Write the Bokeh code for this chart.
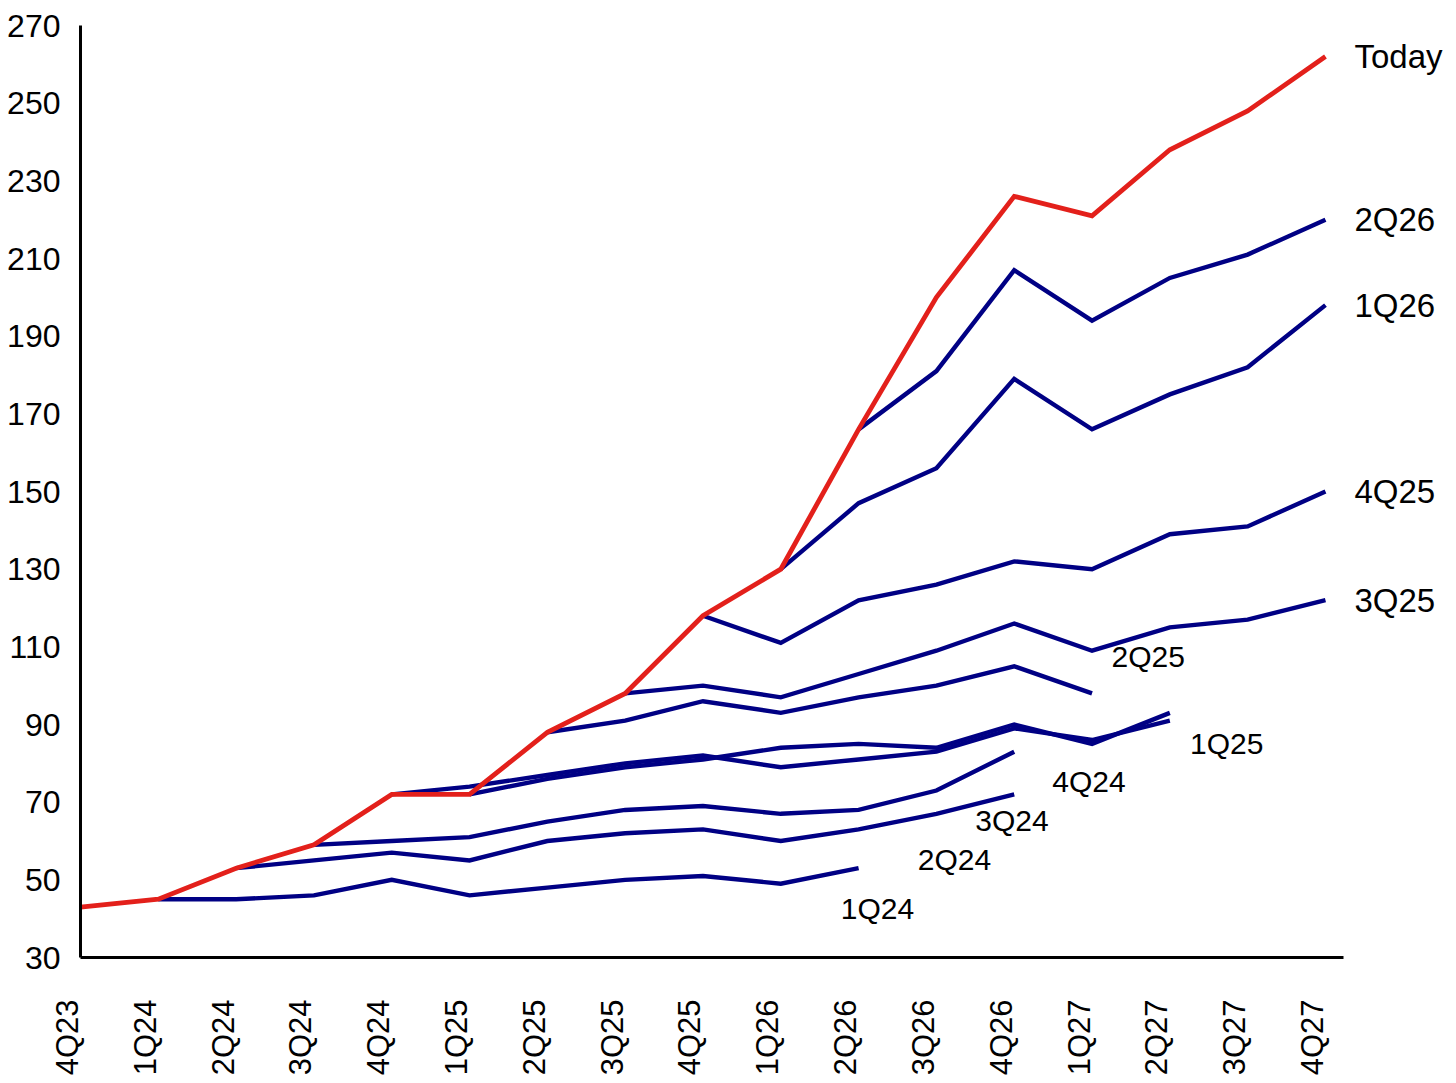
import math
from bokeh.plotting import figure
from bokeh.models import Range1d, FixedTicker, CustomJSTickFormatter, Label, LinearAxis
from bokeh.embed import file_html
from bokeh.resources import INLINE

# ---------------- data ----------------
quarters = ["4Q23", "1Q24", "2Q24", "3Q24", "4Q24", "1Q25", "2Q25", "3Q25", "4Q25",
            "1Q26", "2Q26", "3Q26", "4Q26", "1Q27", "2Q27", "3Q27", "4Q27"]
y_ticks = [30, 50, 70, 90, 110, 130, 150, 170, 190, 210, 230, 250, 270]

today = [43, 45, 53, 59, 72, 72, 88, 98, 118, 130, 166, 200, 226, 221, 238, 248, 262]

# forecast vintages: first quarter of each series and its values
v1Q24_start = "1Q24"
v1Q24 = [45, 45, 46, 50, 46, 48, 50, 51, 49, 53]
v2Q24_start = "2Q24"
v2Q24 = [53, 55, 57, 55, 60, 62, 63, 60, 63, 67, 72]
v3Q24_start = "3Q24"
v3Q24 = [59, 60, 61, 65, 68, 69, 67, 68, 73, 83]
v4Q24_start = "4Q24"
v4Q24 = [72, 74, 77, 80, 82, 79, 81, 83, 89, 86, 91]
v1Q25_start = "1Q25"
v1Q25 = [72, 76, 79, 81, 84, 85, 84, 90, 85, 93]
v2Q25_start = "2Q25"
v2Q25 = [88, 91, 96, 93, 97, 100, 105, 98]
v3Q25_start = "3Q25"
v3Q25 = [98, 100, 97, 103, 109, 116, 109, 115, 117, 122]
v4Q25_start = "4Q25"
v4Q25 = [118, 111, 122, 126, 132, 130, 139, 141, 150]
v1Q26_start = "1Q26"
v1Q26 = [130, 147, 156, 179, 166, 175, 182, 198]
v2Q26_start = "2Q26"
v2Q26 = [166, 181, 207, 194, 205, 211, 220]

vintages = [
    ("1Q24", v1Q24_start, v1Q24), ("2Q24", v2Q24_start, v2Q24),
    ("3Q24", v3Q24_start, v3Q24), ("4Q24", v4Q24_start, v4Q24),
    ("1Q25", v1Q25_start, v1Q25), ("2Q25", v2Q25_start, v2Q25),
    ("3Q25", v3Q25_start, v3Q25), ("4Q25", v4Q25_start, v4Q25),
    ("1Q26", v1Q26_start, v1Q26), ("2Q26", v2Q26_start, v2Q26),
]

# labels placed beside the lower vintages (x as quarter position, y as value)
low_label_names = ["1Q24", "2Q24", "3Q24", "4Q24", "1Q25", "2Q25"]
low_label_x = [9.77, 10.76, 11.50, 12.49, 14.26, 13.25]
low_label_y = [42.6, 55.2, 65.3, 75.3, 85.1, 107.5]

# labels at the right end of the longest series
end_label_names = ["Today", "2Q26", "1Q26", "4Q25", "3Q25"]

# ---------------- figure ----------------
FONT = "Liberation Sans"
RED = "#e3201b"
NAVY = "#000084"
UNIT = 77.81  # pixels per quarter

p = figure(frame_width=1263, frame_height=932,
           min_border_left=80, min_border_right=105,
           min_border_top=25, min_border_bottom=118,
           x_range=Range1d(0, 1263 / UNIT), y_range=Range1d(30, 270),
           output_backend="svg", toolbar_location=None,
           background_fill_color="white", border_fill_color="white")
p.outline_line_color = None
p.grid.visible = False

x = list(range(len(quarters)))

for name, start, vals in vintages:
    i0 = quarters.index(start)
    p.line(x[i0:i0 + len(vals)], vals, line_color=NAVY, line_width=4.4,
           line_join="miter")

p.line(x, today, line_color=RED, line_width=4.8, line_join="miter")

# axes
for ax in (p.xaxis[0], p.yaxis[0]):
    ax.axis_line_color = "black"
    ax.axis_line_width = 3
    ax.major_tick_line_color = None
    ax.major_tick_out = 0
    ax.major_tick_in = 0
    ax.minor_tick_line_color = None
    ax.major_label_text_font = FONT
    ax.major_label_text_color = "black"

p.yaxis.ticker = FixedTicker(ticks=y_ticks)
p.yaxis.major_label_text_font_size = "32px"
p.yaxis.major_label_standoff = 20

p.xaxis.ticker = FixedTicker(ticks=[i + 8 / UNIT for i in x])
p.xaxis.formatter = CustomJSTickFormatter(args=dict(labels=quarters),
                                          code="return labels[Math.round(tick)] + '\\n';")
p.xaxis.major_label_orientation = math.pi / 2
p.xaxis.major_label_text_font_size = "31px"
p.xaxis.major_label_standoff = 42

# end labels as a right-side axis
end_values = {"Today": today[-1]}
for name, start, vals in vintages:
    if quarters.index(start) + len(vals) == len(quarters):
        end_values[name] = vals[-1]
end_ticks = [end_values[n] for n in end_label_names]
right_axis = LinearAxis(ticker=FixedTicker(ticks=end_ticks),
                        major_label_overrides={v: n for n, v in zip(end_label_names, end_ticks)},
                        axis_line_color=None, major_tick_line_color=None,
                        minor_tick_line_color=None, major_tick_out=0, major_tick_in=0,
                        major_label_standoff=11, major_label_text_font=FONT,
                        major_label_text_font_size="33px", major_label_text_color="black")
p.add_layout(right_axis, "right")

for name, lx, ly in zip(low_label_names, low_label_x, low_label_y):
    p.add_layout(Label(x=lx, y=ly, text=name,
                       text_font=FONT, text_font_size="30px", text_color="black",
                       text_align="left", text_baseline="middle"))

open("out.html", "w").write(file_html(p, INLINE))
